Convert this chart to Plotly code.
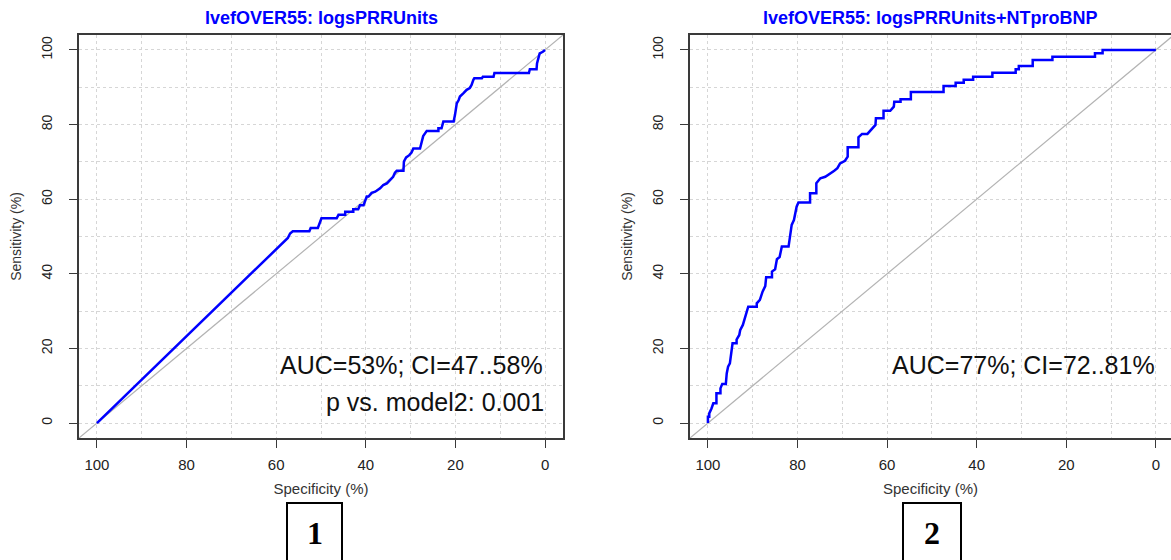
import plotly.graph_objects as go

# ---------------- data ----------------
spec_model1 = [100, 57.4, 56.9, 56.3, 52.6, 52.3, 50.7, 49.9, 46.5, 46.1, 44.6, 44.6, 42.8, 42.8,
               41.7, 41.3, 40.5, 39.8, 39.4, 38.7, 37.9, 36.8, 36.1, 35.3, 34.6, 33.9, 33.5, 33.1,
               31.6, 31.5, 31.0, 30.3, 29.8, 29.4, 27.9, 27.5, 27.2, 26.4, 23.8, 23.8, 23.1, 22.7,
               20.4, 20.1, 19.7, 19.3, 19.0, 18.2, 17.5, 16.8, 16.4, 16.0, 15.8, 14.1, 13.9, 11.5,
               11.3, 3.6, 3.4, 1.9, 1.8, 1.4, 1.2, 0.5, 0]
sens_model1 = [0, 49.6, 50.8, 51.4, 51.4, 52.3, 52.3, 54.9, 54.9, 55.8, 55.8, 56.6, 56.6, 57.3,
               57.3, 58.4, 58.4, 60.7, 60.7, 61.7, 62.0, 62.9, 63.8, 64.2, 65.1, 66.0, 67.1, 67.6,
               67.6, 70.1, 71.2, 71.8, 72.5, 73.6, 73.6, 75.4, 76.9, 78.3, 78.3, 79.0, 79.0, 80.8,
               80.8, 82.6, 85.7, 86.5, 87.5, 88.4, 89.3, 89.8, 90.6, 92.0, 92.4, 92.4, 92.8, 92.8,
               93.8, 93.8, 94.8, 94.8, 96.4, 98.2, 99.1, 99.5, 100]

spec_model2 = [100, 100, 99.7, 99.7, 99.2, 98.8, 98.1, 98.1, 97.2, 97.2, 96.8, 96.0, 95.8, 95.5,
               95.1, 94.9, 94.5, 93.6, 93.6, 93.0, 92.8, 92.2, 91.7, 91.0, 89.1, 89.1, 88.4, 87.8,
               87.2, 87.0, 85.7, 85.7, 85.0, 84.6, 84.0, 83.5, 82.0, 81.8, 81.5, 81.3, 80.8, 80.5,
               80.2, 79.8, 77.2, 77.2, 75.8, 75.8, 74.9, 73.8, 72.7, 71.8, 71.1, 70.5, 69.4, 68.8,
               68.8, 66.4, 66.4, 65.6, 64.4, 63.4, 62.6, 62.5, 60.8, 60.8, 59.3, 58.5, 58.4, 57.0,
               57.0, 54.7, 54.7, 47.4, 47.4, 44.7, 44.7, 42.9, 42.9, 40.8, 40.8, 36.5, 36.5, 31.3,
               31.3, 30.6, 30.6, 27.5, 27.5, 23.1, 23.1, 13.6, 13.6, 11.9, 11.9, 0]
sens_model2 = [0, 1.7, 1.7, 2.6, 3.9, 5.3, 5.3, 8.0, 8.0, 9.3, 10.5, 10.5, 13.3, 15.1,
               16.0, 17.8, 21.4, 21.4, 22.4, 23.6, 24.9, 26.3, 28.5, 31.2, 31.2, 32.1, 33.0, 35.2,
               36.7, 39.1, 39.1, 40.6, 41.2, 43.9, 44.5, 47.3, 47.3, 49.1, 50.9, 53.1, 54.4, 56.2,
               58.0, 59.1, 59.1, 61.6, 61.6, 64.3, 65.6, 66.0, 66.8, 67.6, 68.3, 69.6, 70.3, 71.4,
               73.9, 73.9, 76.6, 77.5, 77.5, 78.7, 79.9, 81.7, 81.7, 83.7, 83.7, 84.8, 86.1, 86.1,
               86.8, 86.8, 88.7, 88.7, 90.3, 90.3, 91.2, 91.2, 92.0, 92.0, 92.8, 92.8, 93.9, 93.9,
               94.8, 94.8, 95.7, 95.7, 97.3, 97.3, 98.2, 98.2, 99.1, 99.1, 100, 100]

chance_spec = [110, -10]
chance_sens = [-10, 110]

titles = ["lvefOVER55: logsPRRUnits", "lvefOVER55: logsPRRUnits+NTproBNP"]
auc_texts = ["AUC=53%; CI=47..58%", "AUC=77%; CI=72..81%"]
p_text = "p vs. model2: 0.001"
panel_labels = ["1", "2"]
tick_values = [0, 20, 40, 60, 80, 100]

# ---------------- styling ----------------
W, H = 1171, 560
BLUE = "#0000FF"
FRAME = "#3a3a3a"
GRID = "#d6d6d6"
SANS = "Liberation Sans, Arial, sans-serif"
SERIF = "Liberation Serif, Times New Roman, serif"

fig = go.Figure()

for i, (sx, sy) in enumerate([(spec_model1, sens_model1), (spec_model2, sens_model2)]):
    xa = "x" if i == 0 else "x2"
    ya = "y" if i == 0 else "y2"
    fig.add_trace(go.Scatter(x=chance_spec, y=chance_sens, mode="lines",
                             line=dict(color="#b3b3b3", width=1.2),
                             xaxis=xa, yaxis=ya, showlegend=False, hoverinfo="skip"))
    fig.add_trace(go.Scatter(x=sx, y=sy, mode="lines",
                             line=dict(color=BLUE, width=2.5),
                             xaxis=xa, yaxis=ya, showlegend=False))


def xax(domain, rng, anchor):
    return dict(domain=domain, range=rng, anchor=anchor,
                tickmode="array", tickvals=tick_values,
                ticks="outside", ticklen=8, tickwidth=1.3, tickcolor=FRAME,
                showline=True, linecolor=FRAME, linewidth=1.5, mirror=True,
                showgrid=True, gridcolor=GRID, griddash="dot", gridwidth=1,
                minor=dict(dtick=10, tick0=0, showgrid=True, gridcolor=GRID,
                           griddash="dot", gridwidth=1, ticks=""),
                zeroline=False,
                tickfont=dict(family=SANS, size=15, color="#222"),
                ticklabelstandoff=4,
                title=dict(text="Specificity (%)", standoff=12,
                           font=dict(family=SANS, size=15, color="#333")))


def yax(anchor, mirror):
    return dict(domain=[122 / H, 525 / H], range=[-4, 104], anchor=anchor,
                tickmode="array", tickvals=tick_values,
                ticks="outside", ticklen=8, tickwidth=1.3, tickcolor=FRAME,
                showline=True, linecolor=FRAME, linewidth=1.5, mirror=mirror,
                showgrid=True, gridcolor=GRID, griddash="dot", gridwidth=1,
                minor=dict(dtick=10, tick0=0, showgrid=True, gridcolor=GRID,
                           griddash="dot", gridwidth=1, ticks=""),
                zeroline=False, tickangle=-90,
                tickfont=dict(family=SANS, size=14, color="#222"),
                ticklabelstandoff=12,
                title=dict(text="Sensitivity (%)", standoff=14,
                           font=dict(family=SANS, size=14, color="#333")))


fig.update_layout(
    width=W, height=H,
    margin=dict(l=0, r=0, t=0, b=0),
    paper_bgcolor="white", plot_bgcolor="white",
    xaxis=xax([79 / W, 563 / W], [104, -4], "y"),
    yaxis=yax("x", True),
    xaxis2=xax([690 / W, 1.0], [104, -3.37], "y2"),
    yaxis2=yax("x2", False),
)

annotations = []
for i, xa in enumerate(["x", "x2"]):
    annotations.append(dict(text="<b>" + titles[i] + "</b>", xref=xa + " domain", x=0.5,
                            yref="paper", y=1 - 18 / H, xanchor="center", yanchor="middle",
                            showarrow=False, font=dict(family=SANS, size=18, color=BLUE)))

annotations.append(dict(text=auc_texts[0], xref="x", yref="y", x=29.7, y=15.5,
                        xanchor="center", yanchor="middle", showarrow=False,
                        font=dict(family=SANS, size=25, color="#111")))
annotations.append(dict(text=p_text, xref="x", yref="y", x=24.6, y=5.6,
                        xanchor="center", yanchor="middle", showarrow=False,
                        font=dict(family=SANS, size=25, color="#111")))
annotations.append(dict(text=auc_texts[1], xref="x2", yref="y2", x=29.6, y=15.5,
                        xanchor="center", yanchor="middle", showarrow=False,
                        font=dict(family=SANS, size=25, color="#111")))

# boxed panel numbers below the plots
box_pos = [(287, 342), (903, 961)]
shapes = []
for (x0, x1), lab in zip(box_pos, panel_labels):
    shapes.append(dict(type="rect", xref="paper", yref="paper",
                       x0=x0 / W, x1=x1 / W, y0=1 - 575 / H, y1=1 - 503 / H,
                       line=dict(color="black", width=2), fillcolor="rgba(0,0,0,0)"))
    annotations.append(dict(text="<b>" + lab + "</b>", xref="paper", yref="paper",
                            x=(x0 + x1) / 2 / W, y=1 - 533 / H, xanchor="center",
                            yanchor="middle", showarrow=False,
                            font=dict(family=SERIF, size=32, color="black")))

fig.update_layout(annotations=annotations, shapes=shapes)

fig.write_html("out.html")
